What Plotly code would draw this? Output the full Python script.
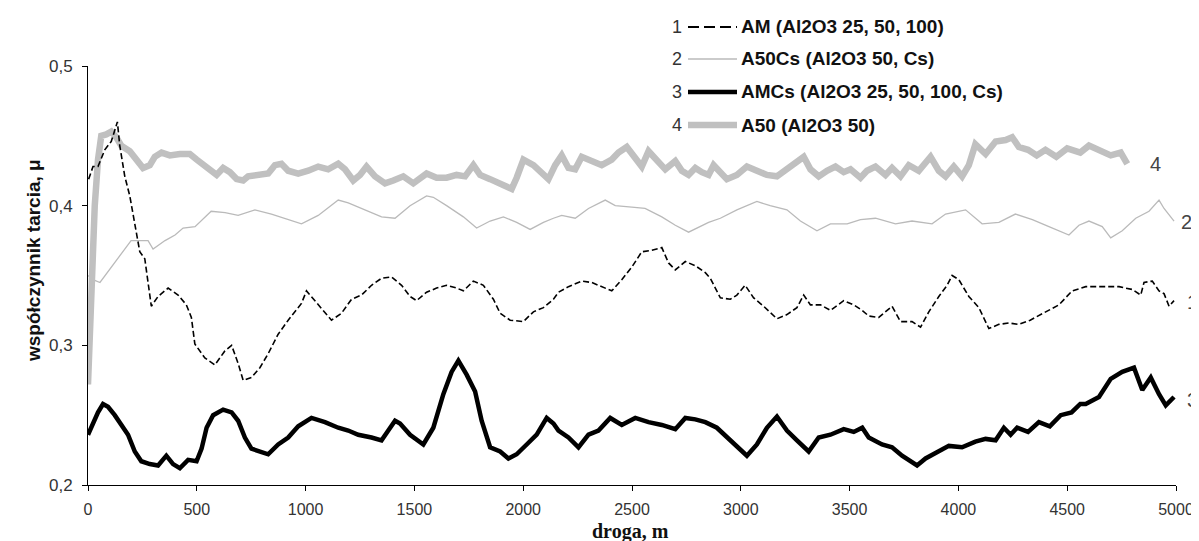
import plotly.graph_objects as go

# ---------------- data ----------------
# series 1: AM (Al2O3 25, 50, 100) - dashed black
am_x = [3, 23, 46, 77, 107, 135, 146, 169, 192, 207, 222, 238, 261, 276, 291, 322, 368, 414, 452, 475,
        491, 537, 583, 629, 660, 690, 713, 751, 790, 828, 874, 920, 981, 1004, 1058, 1119, 1165, 1211,
        1257, 1303, 1349, 1395, 1441, 1480, 1510, 1556, 1602, 1648, 1694, 1725, 1771, 1817, 1863, 1894,
        1940, 2001, 2047, 2093, 2139, 2162, 2208, 2269, 2315, 2361, 2407, 2453, 2499, 2545, 2591, 2637,
        2668, 2699, 2745, 2791, 2837, 2860, 2906, 2952, 2982, 3020, 3059, 3105, 3166, 3212, 3258, 3289,
        3320, 3366, 3412, 3473, 3519, 3558, 3588, 3634, 3695, 3734, 3787, 3826, 3864, 3910, 3948, 3971,
        4002, 4048, 4094, 4140, 4186, 4232, 4278, 4330, 4380, 4416, 4462, 4523, 4585, 4661, 4738, 4799,
        4838, 4853, 4891, 4922, 4945, 4968, 4991]
am_y = [0.419, 0.428, 0.428, 0.440, 0.446, 0.460, 0.443, 0.421, 0.407, 0.393, 0.379, 0.367, 0.362, 0.343,
        0.328, 0.335, 0.341, 0.336, 0.329, 0.320, 0.301, 0.291, 0.286, 0.296, 0.300, 0.287, 0.275, 0.277,
        0.284, 0.294, 0.308, 0.318, 0.330, 0.339, 0.329, 0.318, 0.323, 0.333, 0.336, 0.343, 0.348, 0.349,
        0.343, 0.335, 0.332, 0.338, 0.341, 0.343, 0.341, 0.339, 0.346, 0.343, 0.333, 0.323, 0.318, 0.317,
        0.324, 0.327, 0.333, 0.338, 0.342, 0.346, 0.345, 0.342, 0.339, 0.347, 0.356, 0.367, 0.368, 0.370,
        0.359, 0.354, 0.360, 0.357, 0.352, 0.348, 0.334, 0.333, 0.336, 0.343, 0.334, 0.328, 0.319, 0.322,
        0.327, 0.336, 0.329, 0.329, 0.325, 0.332, 0.329, 0.325, 0.321, 0.320, 0.328, 0.317, 0.317, 0.313,
        0.324, 0.335, 0.343, 0.350, 0.347, 0.335, 0.327, 0.312, 0.315, 0.316, 0.315, 0.318, 0.322, 0.325,
        0.329, 0.339, 0.342, 0.342, 0.342, 0.340, 0.336, 0.345, 0.346, 0.339, 0.337, 0.328, 0.332]

# series 2: A50Cs (Al2O3 50, Cs) - thin light grey
a50cs_x = [0, 23, 55, 198, 276, 299, 354, 400, 437, 492, 566, 630, 690, 767, 843, 920, 981, 1058, 1150,
           1196, 1273, 1349, 1411, 1480, 1556, 1587, 1648, 1725, 1786, 1848, 1909, 1970, 2032, 2093, 2139,
           2177, 2239, 2300, 2377, 2423, 2499, 2560, 2637, 2699, 2760, 2821, 2852, 2906, 2982, 3074, 3135,
           3212, 3274, 3350, 3412, 3489, 3550, 3619, 3711, 3787, 3879, 3941, 4033, 4109, 4186, 4262, 4340,
           4416, 4508, 4554, 4600, 4661, 4700, 4753, 4815, 4876, 4922, 4945, 4991]
a50cs_y = [0.350, 0.347, 0.345, 0.375, 0.375, 0.369, 0.375, 0.379, 0.384, 0.385, 0.396, 0.395, 0.393, 0.397,
           0.394, 0.390, 0.387, 0.393, 0.404, 0.402, 0.397, 0.392, 0.391, 0.400, 0.407, 0.406, 0.400, 0.392,
           0.384, 0.389, 0.392, 0.388, 0.383, 0.388, 0.391, 0.393, 0.391, 0.398, 0.404, 0.400, 0.399, 0.398,
           0.392, 0.386, 0.381, 0.386, 0.388, 0.391, 0.397, 0.403, 0.400, 0.397, 0.389, 0.382, 0.387, 0.387,
           0.390, 0.391, 0.387, 0.389, 0.387, 0.394, 0.397, 0.387, 0.388, 0.394, 0.390, 0.385, 0.379, 0.386,
           0.389, 0.385, 0.377, 0.382, 0.391, 0.396, 0.404, 0.398, 0.389]

# series 3: AMCs (Al2O3 25, 50, 100, Cs) - thick black
amcs_x = [0, 23, 46, 69, 92, 123, 153, 184, 215, 245, 284, 322, 360, 391, 422, 460, 499, 522, 545, 575,
          621, 660, 690, 721, 751, 797, 828, 874, 920, 966, 1027, 1089, 1150, 1196, 1242, 1303, 1349, 1380,
          1411, 1434, 1480, 1541, 1587, 1633, 1671, 1702, 1740, 1779, 1809, 1848, 1894, 1932, 1970, 2016,
          2062, 2108, 2139, 2162, 2208, 2254, 2300, 2346, 2400, 2453, 2515, 2576, 2637, 2699, 2745, 2791,
          2837, 2890, 2952, 3028, 3074, 3120, 3166, 3212, 3258, 3312, 3358, 3412, 3473, 3519, 3558, 3588,
          3649, 3695, 3741, 3787, 3810, 3849, 3895, 3956, 4017, 4078, 4125, 4171, 4209, 4240, 4270, 4320,
          4370, 4420, 4470, 4520, 4560, 4585, 4646, 4700, 4753, 4807, 4845, 4884, 4922, 4953, 4991]
amcs_y = [0.236, 0.245, 0.252, 0.258, 0.256, 0.250, 0.243, 0.236, 0.224, 0.217, 0.215, 0.214, 0.221, 0.215,
          0.212, 0.218, 0.217, 0.226, 0.241, 0.250, 0.254, 0.252, 0.246, 0.234, 0.226, 0.224, 0.222, 0.229,
          0.234, 0.242, 0.248, 0.245, 0.241, 0.239, 0.236, 0.234, 0.232, 0.239, 0.246, 0.244, 0.236, 0.229,
          0.241, 0.265, 0.281, 0.289, 0.279, 0.267, 0.246, 0.227, 0.224, 0.219, 0.222, 0.229, 0.236, 0.248,
          0.244, 0.239, 0.234, 0.227, 0.236, 0.239, 0.248, 0.243, 0.248, 0.245, 0.243, 0.240, 0.248, 0.247,
          0.245, 0.241, 0.232, 0.221, 0.229, 0.241, 0.249, 0.239, 0.232, 0.224, 0.234, 0.236, 0.240, 0.238,
          0.241, 0.234, 0.229, 0.227, 0.221, 0.216, 0.214, 0.219, 0.223, 0.228, 0.227, 0.231, 0.233, 0.232,
          0.241, 0.236, 0.241, 0.238, 0.245, 0.242, 0.250, 0.252, 0.258, 0.258, 0.263, 0.276, 0.281, 0.284,
          0.268, 0.277, 0.265, 0.257, 0.263]

# series 4: A50 (Al2O3 50) - thick grey
a50_x = [0, 15, 31, 46, 61, 84, 107, 130, 153, 192, 230, 253, 284, 307, 338, 376, 422, 468, 499, 545, 591,
         621, 652, 683, 713, 736, 782, 828, 859, 889, 920, 966, 1012, 1058, 1104, 1150, 1181, 1219, 1250,
         1280, 1319, 1365, 1403, 1449, 1495, 1556, 1602, 1648, 1694, 1733, 1771, 1802, 1848, 1894, 1947,
         1970, 2001, 2047, 2093, 2116, 2147, 2177, 2208, 2239, 2269, 2315, 2361, 2407, 2438, 2476, 2515,
         2545, 2576, 2614, 2653, 2699, 2729, 2760, 2791, 2821, 2852, 2875, 2936, 2982, 3028, 3074, 3120,
         3166, 3212, 3258, 3289, 3320, 3358, 3396, 3435, 3473, 3504, 3550, 3580, 3619, 3665, 3695, 3734,
         3772, 3818, 3872, 3910, 3941, 3979, 4017, 4048, 4078, 4125, 4171, 4217, 4247, 4278, 4320, 4360,
         4400, 4450, 4500, 4560, 4600, 4650, 4700, 4746, 4776]
a50_y = [0.272, 0.348, 0.400, 0.433, 0.450, 0.451, 0.453, 0.449, 0.443, 0.439, 0.432, 0.427, 0.429, 0.435,
         0.438, 0.436, 0.437, 0.437, 0.433, 0.428, 0.422, 0.427, 0.424, 0.419, 0.418, 0.421, 0.422, 0.423,
         0.429, 0.430, 0.425, 0.423, 0.425, 0.428, 0.426, 0.430, 0.426, 0.418, 0.422, 0.428, 0.421, 0.416,
         0.418, 0.421, 0.416, 0.423, 0.420, 0.420, 0.422, 0.421, 0.429, 0.422, 0.419, 0.416, 0.412, 0.420,
         0.433, 0.429, 0.422, 0.419, 0.429, 0.436, 0.427, 0.426, 0.435, 0.432, 0.429, 0.433, 0.438, 0.442,
         0.433, 0.428, 0.439, 0.433, 0.426, 0.432, 0.425, 0.422, 0.427, 0.424, 0.422, 0.429, 0.419, 0.422,
         0.428, 0.425, 0.422, 0.421, 0.426, 0.431, 0.435, 0.426, 0.421, 0.425, 0.428, 0.424, 0.426, 0.420,
         0.425, 0.428, 0.422, 0.427, 0.421, 0.429, 0.425, 0.435, 0.425, 0.421, 0.428, 0.421, 0.429, 0.444,
         0.437, 0.446, 0.447, 0.449, 0.442, 0.440, 0.436, 0.440, 0.435, 0.441, 0.438, 0.443, 0.440, 0.436,
         0.438, 0.430]

legend_nums = ["1", "2", "3", "4"]
legend_names = ["AM (Al2O3 25, 50, 100)", "A50Cs (Al2O3 50, Cs)",
                "AMCs (Al2O3 25, 50, 100, Cs)", "A50 (Al2O3 50)"]
x_ticks = [0, 500, 1000, 1500, 2000, 2500, 3000, 3500, 4000, 4500, 5000]
y_ticks = [0.2, 0.3, 0.4, 0.5]
y_ticktext = ["0,2", "0,3", "0,4", "0,5"]

# ---------------- figure ----------------
W, H = 1199, 541
L, R, T, B = 80, 31, 58, 64
pw, ph = W - L - R, H - T - B

def px(xp):
    return (xp - L) / pw

def py(yp):
    return 1 - (yp - T) / ph

styles = [
    dict(color="black", width=1.6, dash="6px,3px"),
    dict(color="#bababa", width=1.3),
    dict(color="black", width=4.5),
    dict(color="#c0c0c0", width=6.5),
]
legend_line_styles = [
    dict(color="black", width=1.8, dash="11px,5px"),
    dict(color="#bababa", width=1.3),
    dict(color="black", width=4.5),
    dict(color="#c0c0c0", width=6.5),
]

fig = go.Figure()
series = [(am_x, am_y), (a50cs_x, a50cs_y), (amcs_x, amcs_y), (a50_x, a50_y)]
order = [1, 3, 0, 2]
for i in order:
    xs, ys = series[i]
    fig.add_trace(go.Scatter(x=xs, y=ys, mode="lines", line=styles[i],
                             name=legend_names[i], showlegend=False))

shapes = []
annotations = []
leg_rows = [19, 51, 84, 117]
for k in range(4):
    yp = leg_rows[k]
    shapes.append(dict(type="line", xref="paper", yref="paper",
                       x0=px(680), x1=px(729), y0=py(yp), y1=py(yp),
                       line=legend_line_styles[k]))
    annotations.append(dict(xref="paper", yref="paper", x=px(676), y=py(yp),
                            text=legend_nums[k], showarrow=False, xanchor="right",
                            yanchor="middle", font=dict(family="Liberation Sans", size=18, color="#333333")))
    annotations.append(dict(xref="paper", yref="paper", x=px(731), y=py(yp),
                            text="<b>" + legend_names[k] + "</b>", showarrow=False, xanchor="left",
                            yanchor="middle", font=dict(family="Liberation Sans", size=19, color="#111111")))

end_labels = [("4", 1147, 156), ("2", 1178, 214), ("1", 1184, 294), ("3", 1184, 392)]
for t, xp, yp in end_labels:
    annotations.append(dict(xref="paper", yref="paper", x=px(xp), y=py(yp), text=t,
                            showarrow=False, xanchor="center", yanchor="middle",
                            font=dict(family="Liberation Sans", size=20, color="#444444")))

annotations.append(dict(xref="paper", yref="paper", x=px(25), y=py(253),
                        text="<b>współczynnik tarcia, μ</b>", textangle=-90, showarrow=False,
                        xanchor="center", yanchor="middle",
                        font=dict(family="Liberation Sans", size=19, color="#111111")))
annotations.append(dict(xref="paper", yref="paper", x=px(622), y=py(523),
                        text="<b>droga, m</b>", showarrow=False, xanchor="center", yanchor="middle",
                        font=dict(family="Liberation Serif", size=20, color="#111111")))

fig.update_layout(
    width=W, height=H, margin=dict(l=L, r=R, t=T, b=B),
    paper_bgcolor="white", plot_bgcolor="white",
    shapes=shapes, annotations=annotations, showlegend=False,
    xaxis=dict(range=[0, 5000], tickvals=x_ticks, showgrid=False, zeroline=False,
               showline=True, linecolor="black", linewidth=1, ticks="outside", ticklen=5,
               tickcolor="black", ticklabelstandoff=5,
               tickfont=dict(family="Liberation Sans", size=16, color="#333333")),
    yaxis=dict(range=[0.2, 0.5], tickvals=y_ticks, ticktext=y_ticktext, showgrid=False,
               zeroline=False, showline=True, linecolor="black", linewidth=1, ticks="outside",
               ticklen=5, tickcolor="black", ticklabelstandoff=6,
               tickfont=dict(family="Liberation Sans", size=17, color="#333333")),
)

fig.write_html("out.html")
